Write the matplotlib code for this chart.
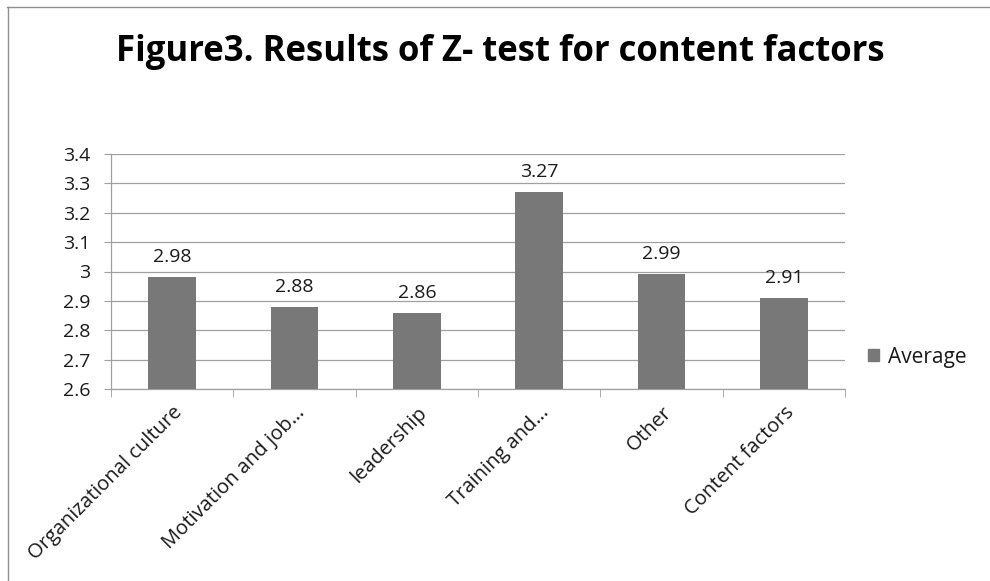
import matplotlib
matplotlib.use("Agg")
import matplotlib.pyplot as plt
from matplotlib.lines import Line2D
from matplotlib.patches import Patch

categories = ["Organizational culture", "Motivation and job…", "leadership",
              "Training and…", "Other", "Content factors"]
values = [2.98, 2.88, 2.86, 3.27, 2.99, 2.91]
value_labels = ["2.98", "2.88", "2.86", "3.27", "2.99", "2.91"]
yticks = [2.6, 2.7, 2.8, 2.9, 3.0, 3.1, 3.2, 3.3, 3.4]
ytick_labels = ["2.6", "2.7", "2.8", "2.9", "3", "3.1", "3.2", "3.3", "3.4"]
series_name = "Average"
title = "Figure3. Results of Z- test for content factors"

plt.rcParams['font.family'] = ['Open Sans', 'DejaVu Sans']

fig = plt.figure(figsize=(9.9, 5.81), dpi=100)
ax = fig.add_axes([111/990, 1-389/581, (845-111)/990, (389-154)/581])

fs = 14
text_color = "#1a1a1a"
bar_color = "#787878"
x = list(range(len(categories)))
ax.bar(x, values, width=0.39, color=bar_color, zorder=3, label=series_name)
for xi, v, lab in zip(x, values, value_labels):
    ax.annotate(lab, (xi, v), xytext=(0, 8), textcoords="offset points",
                ha="center", va="bottom", fontsize=fs, color=text_color)

ax.set_xlim(-0.5, len(categories) - 0.5)
ax.set_ylim(2.6, 3.4)
ax.set_yticks(yticks)
ax.set_yticklabels(ytick_labels, fontsize=fs, color=text_color)
ax.yaxis.grid(True, color="#a0a0a0", linewidth=0.9, zorder=0)
ax.tick_params(axis="y", length=5, color="#a0a0a0", pad=10)

ax.set_xticks(x)
ax.set_xticklabels(categories, rotation=45, ha="right", va="top",
                   rotation_mode="anchor", fontsize=14.5, color=text_color)
ax.tick_params(axis="x", length=0, pad=10)
# category boundary ticks
ax.set_xticks([i - 0.5 for i in range(len(categories) + 1)], minor=True)
ax.tick_params(axis="x", which="minor", length=6, color="#a0a0a0")

for s in ["top", "right"]:
    ax.spines[s].set_visible(False)
for s in ["left", "bottom"]:
    ax.spines[s].set_color("#a0a0a0")
    ax.spines[s].set_linewidth(0.9)

fig.text(500/990, 1 - 52/581, title, ha="center", va="center",
         fontsize=25, fontweight="bold", color="black")

handles = [Patch(facecolor=bar_color, edgecolor=bar_color, label=series_name)]
fig.legend(handles=handles, loc="center left", bbox_to_anchor=(849/990, 1 - 357/581),
           frameon=False, fontsize=15, handlelength=0.55, handleheight=0.55,
           handletextpad=0.4, labelcolor=text_color)

# outer chart border (top and left)
fig.add_artist(Line2D([7/990, 1], [1 - 7/581, 1 - 7/581], color="#909090", linewidth=1.0))
fig.add_artist(Line2D([8/990, 8/990], [0, 1 - 7/581], color="#909090", linewidth=1.0))

fig.savefig("out.png", dpi=100)
